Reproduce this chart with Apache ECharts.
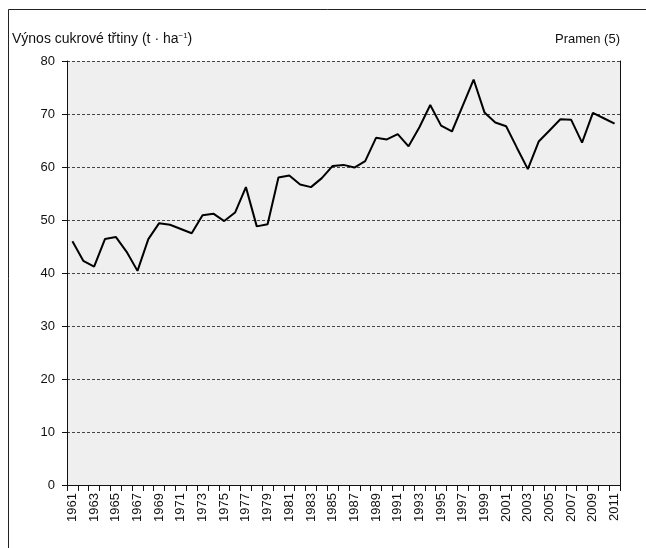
<!DOCTYPE html>
<html>
<head>
<meta charset="utf-8">
<script src="https://cdn.jsdelivr.net/npm/echarts@6/dist/echarts.min.js"></script>
<style>
  html, body { margin: 0; padding: 0; background: #fff; }
  #chart { width: 646px; height: 548px; }
</style>
</head>
<body>
<div id="chart"></div>
<script>
// roky 1961–2011
var years = [];
for (var y = 1961; y <= 2011; y++) years.push(String(y));

// výnos cukrové třtiny (t/ha)
var yields = [
  46.0, 42.3, 41.2, 46.4, 46.8, 44.0, 40.4, 46.4, 49.4, 49.1,
  48.3, 47.5, 50.9, 51.2, 49.8, 51.4, 56.2, 48.8, 49.2, 58.0,
  58.4, 56.7, 56.2, 57.9, 60.2, 60.4, 59.9, 61.1, 65.5, 65.2,
  66.2, 63.9, 67.5, 71.7, 67.8, 66.7, 71.6, 76.5, 70.3, 68.4,
  67.7, 63.6, 59.6, 64.8, 66.9, 69.0, 68.9, 64.6, 70.2, 69.2,
  68.2
];

var yTicks = [0, 10, 20, 30, 40, 50, 60, 70, 80];

var font = '"Liberation Sans", Arial, sans-serif';

var chart = echarts.init(document.getElementById('chart'));

var option = {
  animation: false,
  backgroundColor: '#fff',
  textStyle: { fontFamily: font },
  graphic: [
    {
      type: 'polyline',
      shape: { points: [[8.5, 548], [8.5, 9.5], [646, 9.5]] },
      style: { stroke: '#222', lineWidth: 1, fill: null }
    },
    {
      type: 'text',
      left: 12, top: 32,
      style: {
        text: 'Výnos cukrové třtiny (t · ha{sup|−1})',
        fontFamily: font, fontSize: 14, fill: '#111',
        rich: { sup: { fontSize: 8, verticalAlign: 'top', padding: [0, 0, 7, 0], fontFamily: font, fill: '#111' } }
      }
    },
    {
      type: 'text',
      right: 26, top: 33,
      style: { text: 'Pramen (5)', fontFamily: font, fontSize: 13, fill: '#111', textAlign: 'right' }
    }
  ],
  grid: {
    left: 67, right: 26, top: 61, bottom: 63,
    show: true, backgroundColor: '#eeefee', borderWidth: 0
  },
  xAxis: {
    type: 'category',
    data: years,
    boundaryGap: true,
    axisLine: { lineStyle: { color: '#111', width: 1 } },
    axisTick: { show: true, interval: 0, length: 6, lineStyle: { color: '#111' } },
    axisLabel: {
      interval: 1, rotate: 90, fontSize: 13, color: '#111',
      fontFamily: font, margin: 8
    },
    splitLine: { show: false }
  },
  yAxis: [
    {
      type: 'value',
      min: yTicks[0], max: yTicks[yTicks.length - 1], interval: 10,
      axisLine: { show: true, lineStyle: { color: '#111', width: 1 } },
      axisTick: { show: true, length: 5, lineStyle: { color: '#111' } },
      axisLabel: { fontSize: 13, color: '#111', fontFamily: font, margin: 12 },
      splitLine: { show: true, lineStyle: { color: '#444', type: [3, 2], width: 1 } }
    },
    {
      type: 'value', position: 'right',
      min: 0, max: 80,
      axisLine: { show: true, lineStyle: { color: '#111', width: 1 } },
      axisTick: { show: false },
      axisLabel: { show: false },
      splitLine: { show: false }
    }
  ],
  series: [
    {
      type: 'line',
      data: yields,
      showSymbol: false,
      symbol: 'none',
      lineStyle: { color: '#000', width: 2 }
    }
  ]
};

chart.setOption(option);
</script>
</body>
</html>
